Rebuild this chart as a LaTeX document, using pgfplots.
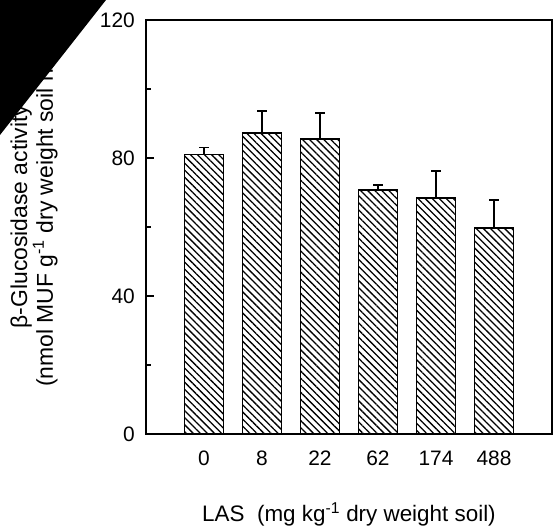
\documentclass[border=0pt]{standalone}
\usepackage{fontspec}
\setmainfont{Liberation Sans}
\usepackage{pgfplots}
\pgfplotsset{compat=1.18}
\usetikzlibrary{patterns.meta}
\begin{document}
\fontsize{21}{25}\selectfont
\begin{tikzpicture}
\begin{axis}[
  scale only axis, width=406bp, height=414bp,
  xmin=-1, xmax=6, ymin=0, ymax=120,
  ybar,
  xtick={0,1,2,3,4,5}, xticklabels={0,8,22,62,174,488},
  major x tick style={draw=none},
  ytick={0,40,80,120}, minor ytick={20,60,100},
  ytick pos=left,
  tick align=inside, major tick length=8bp, minor tick length=5bp,
  tick style={line width=1.1bp, black},
  axis line style={line width=1.2bp},
  /pgf/number format/assume math mode=true,
  tick label style={font=\fontsize{21}{25}\selectfont},
  xticklabel style={anchor=base, yshift=-31.5bp},
  yticklabel style={xshift=-4bp},
  xlabel={LAS\ \ (mg kg\textsuperscript{-1} dry weight soil)},
  xlabel style={at={(axis description cs:0.5,0)}, anchor=base, yshift=-87bp, font=\fontsize{22.5}{26}\selectfont},
  ylabel={β-Glucosidase activity\\(nmol MUF g\textsuperscript{-1} dry weight soil h\textsuperscript{-1})},
  ylabel style={at={(axis description cs:-0.2,0.525)}, anchor=south, align=center, font=\fontsize{23}{24}\selectfont},
]
\addplot[ybar, bar width=39bp, draw=black, line width=1.8bp,
  pattern={Lines[angle=-45, distance=5bp, line width=1.3bp]}, pattern color=black,
  error bars/.cd, y dir=plus, y explicit,
  error bar style={line width=1.6bp, black, solid},
  error mark options={rotate=90, mark size=4.8bp, line width=1.6bp, black}]
coordinates {
(0,81) +- (0,2.0)
(1,87.2) +- (0,6.4)
(2,85.4) +- (0,7.6)
(3,70.7) +- (0,1.4)
(4,68.3) +- (0,7.9)
(5,59.7) +- (0,8.1)
};
\end{axis}
\pgfresetboundingbox
\path (current axis.north west) ++(-146bp,20bp) rectangle ++(553bp,-530bp);
\fill[black] (current axis.north west) ++(-146bp,20bp) -- ++(106bp,0) -- ++(-106bp,-135bp) -- cycle;
\end{tikzpicture}
\end{document}
